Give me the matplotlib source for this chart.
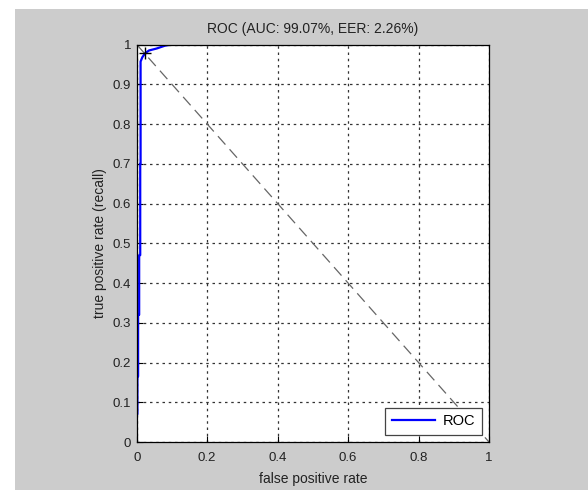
import matplotlib.pyplot as plt
from matplotlib.patches import Rectangle

# ROC curve
fpr = [0, 0, 0.002, 0.002, 0.004, 0.004, 0.007, 0.007, 0.010, 0.010, 0.011, 0.011,
       0.016, 0.024, 0.035, 0.057, 0.08, 0.10, 1.0]
tpr = [0, 0.07, 0.07, 0.165, 0.165, 0.32, 0.32, 0.47, 0.47, 0.70, 0.70, 0.957,
       0.968, 0.978, 0.985, 0.99, 0.997, 1.0, 1.0]
eer_x = [0.0226]
eer_y = [0.9774]
diag_x = [0, 1]
diag_y = [1, 0]
xticks = [0, 0.2, 0.4, 0.6, 0.8, 1]
yticks = [0, 0.1, 0.2, 0.3, 0.4, 0.5, 0.6, 0.7, 0.8, 0.9, 1]

plt.rcParams['font.family'] = ['Liberation Sans', 'DejaVu Sans']

fig = plt.figure(figsize=(5.88, 4.9), dpi=100, facecolor='white')
fig.patches.append(Rectangle((15 / 588, 0), 1 - 15 / 588, 1 - 9 / 490,
                             transform=fig.transFigure, facecolor='#cccccc',
                             edgecolor='none', zorder=-10))

ax = fig.add_axes([136.7 / 588, 1 - 442 / 490, 352.3 / 588, 397.5 / 490])
ax.set_facecolor('white')

ax.plot(diag_x, diag_y, color='#666666', lw=0.9, dashes=(9, 5))
ax.plot(fpr, tpr, color='#0000ff', lw=1.6, label='ROC')
ax.plot(eer_x, eer_y, marker='+', color='black', ms=8, mew=1.0, ls='none')

ax.set_xlim(0, 1)
ax.set_ylim(0, 1)
ax.set_xticks(xticks)
ax.set_yticks(yticks)
ax.set_xticklabels(['0', '0.2', '0.4', '0.6', '0.8', '1'])
ax.set_yticklabels(['0', '0.1', '0.2', '0.3', '0.4', '0.5', '0.6', '0.7', '0.8', '0.9', '1'])
ax.tick_params(direction='in', length=4, width=0.8, labelsize=9.5,
               colors='black', labelcolor='#222222')
ax.tick_params(axis='x', pad=7)
ax.tick_params(axis='y', pad=4)
ax.grid(True, color='#333333', linestyle=(0, (2, 3)), linewidth=0.9)
for s in ax.spines.values():
    s.set_linewidth(0.9)

ax.set_title('ROC (AUC: 99.07%, EER: 2.26%)', fontsize=10, color='#222222', pad=8)
ax.set_xlabel('false positive rate', fontsize=10, color='#222222', labelpad=6)
ax.set_ylabel('true positive rate (recall)', fontsize=10, color='#222222', labelpad=4)

leg = ax.legend(loc='lower right', fontsize=10.5, fancybox=False, framealpha=1,
                edgecolor='#444444', handlelength=3.0, borderaxespad=0.5,
                borderpad=0.45, handletextpad=0.5)
leg.get_frame().set_linewidth(0.9)

fig.savefig('out.png', dpi=100, facecolor=fig.get_facecolor())
